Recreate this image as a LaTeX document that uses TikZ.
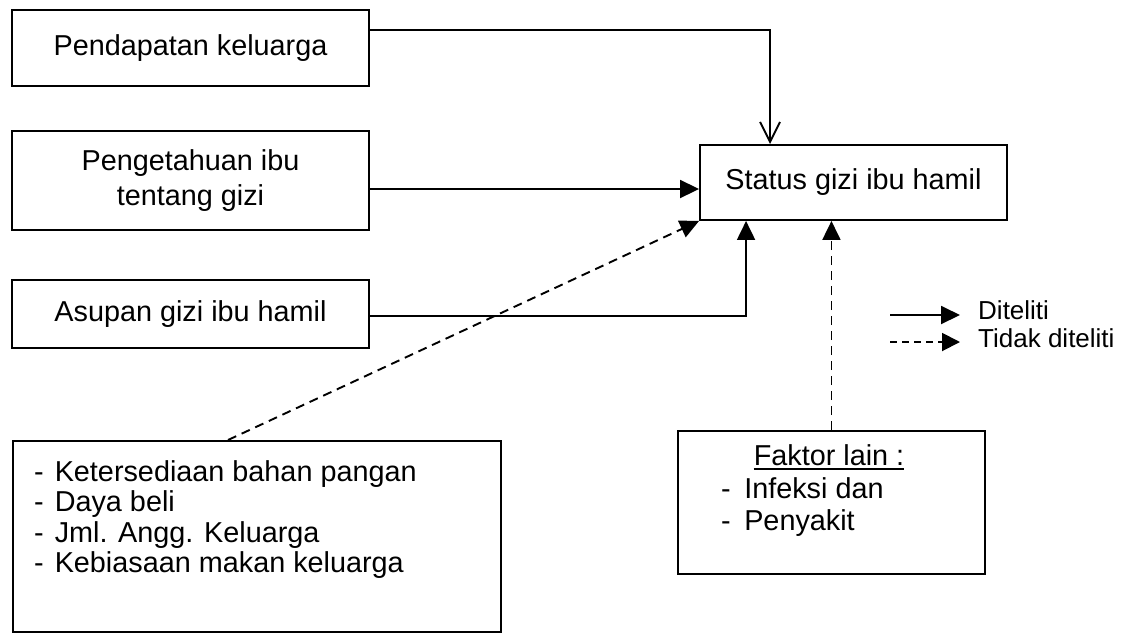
\documentclass[tikz,border=0pt]{standalone}
\usepackage{fontspec}
\setmainfont{Liberation Sans}
\usetikzlibrary{arrows.meta}
\begin{document}
\begin{tikzpicture}[x=1pt,y=-1pt,
  box/.style={draw, line width=1.9pt, inner sep=0pt, align=center, font=\fontsize{28.8}{35}\selectfont},
  itemtext/.style={inner sep=0pt, anchor=base west, font=\fontsize{28.8}{35}\selectfont},
  legtext/.style={inner sep=0pt, anchor=west, font=\fontsize{26}{30}\selectfont},
  conn/.style={line width=1.9pt},
  solidarrow/.style={conn, -{Triangle[length=19pt,width=18pt]}},
  dasharrow/.style={conn, dash pattern=on 9pt off 6pt, -{Triangle[length=19pt,width=18pt]}},
  legdash/.style={conn, dash pattern=on 7pt off 5pt, -{Triangle[length=18pt,width=18pt]}},
  openarrow/.style={conn, -{Straight Barb[length=20pt,width=20pt,line width=1.9pt]}}]
\useasboundingbox (0,0) rectangle (1135,633);
\fill[white] (0,0) rectangle (1135,633);

% boxes
\node[box, minimum width=357pt, minimum height=76pt] (P) at (190.5,48) {Pendapatan keluarga};
\node[box, minimum width=357pt, minimum height=99pt] (K) at (190.5,180.5) {Pengetahuan ibu\\tentang gizi};
\node[box, minimum width=357pt, minimum height=68pt] (A) at (190.5,314) {Asupan gizi ibu hamil};
\node[box, minimum width=307pt, minimum height=75pt] (S) at (853.5,182.5) {Status gizi ibu hamil};
\node[box, minimum width=488pt, minimum height=191pt, anchor=north west] (F) at (12,440) {};
\node[box, minimum width=307pt, minimum height=143pt, anchor=north west] (L) at (677,430) {};

% text of the lower boxes
\node[itemtext] (f1) at (34,481) {-\hspace{11pt}Ketersediaan bahan pangan};
\node[itemtext] (f2) at (34,511.5) {-\hspace{11pt}Daya beli};
\node[itemtext] (f3) at (34,542) {-\hspace{11pt}Jml. Angg. Keluarga};
\node[itemtext] (f4) at (34,572.5) {-\hspace{11pt}Kebiasaan makan keluarga};

\node[itemtext, anchor=base] (l0) at (829,465) {Faktor lain :};
\draw[conn] ([yshift=-4pt]l0.base west) -- ([yshift=-4pt]l0.base east);
\node[itemtext] (l1) at (721,498) {-\hspace{13.5pt}Infeksi dan};
\node[itemtext] (l2) at (721,530) {-\hspace{13.5pt}Penyakit};

% connectors
\draw[openarrow] ([yshift=18pt]P.east) -| ([xshift=71pt]S.north west);
\draw[solidarrow] ([yshift=-8.5pt]K.east) -- ([yshift=-8.5pt]K.east -| S.west);
\draw[solidarrow] ([yshift=-2pt]A.east) -| ([xshift=47pt]S.south west);
\draw[dasharrow] ([xshift=216pt]F.north west) -- (S.south west);
\draw[dasharrow] (L.north) -- (L.north |- S.south);

% legend
\coordinate (ls1) at (890,315);
\coordinate (le1) at (960,315);
\coordinate (ls2) at (890,342);
\coordinate (le2) at (960,342);
\draw[solidarrow] (ls1) -- (le1);
\draw[legdash] (ls2) -- (le2);
\node[legtext] (d1) at (978,310) {Diteliti};
\node[legtext] (d2) at (978,338) {Tidak diteliti};
\end{tikzpicture}
\end{document}
